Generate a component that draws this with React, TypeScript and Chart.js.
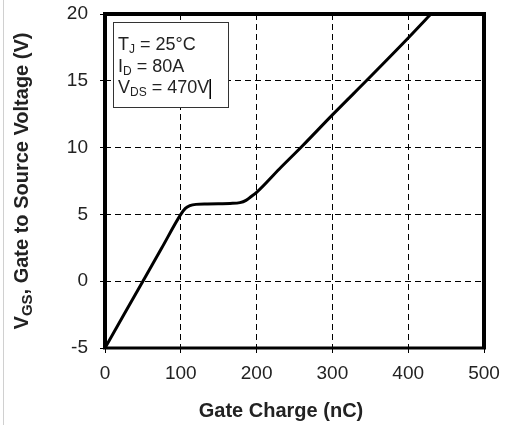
import React, { useEffect, useRef } from "react";
import { Chart, registerables } from "chart.js";

Chart.register(...registerables);

// Data
const gateCharge: number[] = [0, 25, 50, 75, 100, 106, 112, 120, 135, 150, 165, 178, 186, 192, 200, 230, 260, 300, 350, 400, 430];
const vgsValues: number[] = [-5, -2.5, 0, 2.5, 5, 5.45, 5.65, 5.75, 5.78, 5.8, 5.82, 5.88, 6.05, 6.3, 6.65, 8.4, 10.1, 12.45, 15.3, 18.2, 20];

const xMin = 0, xMax = 500, xStep = 100;
const yMin = -5, yMax = 20, yStep = 5;

const xTitle = "Gate Charge (nC)";
const yTitleParts = [
  { t: "V", sub: false },
  { t: "GS", sub: true },
  { t: ", Gate to Source Voltage (V)", sub: false },
];
const noteLines = [
  [{ t: "T", sub: false }, { t: "J", sub: true }, { t: " = 25°C", sub: false }],
  [{ t: "I", sub: false }, { t: "D", sub: true }, { t: " = 80A", sub: false }],
  [{ t: "V", sub: false }, { t: "DS", sub: true }, { t: " = 470V", sub: false }],
];

const FONT = "'Liberation Sans', Arial, sans-serif";
const TXT = "#222";

function drawRich(ctx: CanvasRenderingContext2D, parts: { t: string; sub: boolean }[], x: number, y: number, size: number, subSize: number, bold: boolean, subDy: number, center: boolean) {
  const w = bold ? "bold " : "";
  let total = 0;
  for (const p of parts) {
    ctx.font = `${w}${p.sub ? subSize : size}px ${FONT}`;
    total += ctx.measureText(p.t).width;
  }
  let cx = center ? x - total / 2 : x;
  for (const p of parts) {
    ctx.font = `${w}${p.sub ? subSize : size}px ${FONT}`;
    ctx.fillText(p.t, cx, p.sub ? y + subDy : y);
    cx += ctx.measureText(p.t).width;
  }
  return cx;
}

const decor = {
  id: "decor",
  afterDraw(chart: any) {
    const ctx: CanvasRenderingContext2D = chart.ctx;
    const a = chart.chartArea;
    ctx.save();
    // page edge line
    ctx.fillStyle = "#d0d0d0";
    ctx.fillRect(3, 0, 1, chart.height);
    // frame
    ctx.strokeStyle = "#000";
    ctx.lineWidth = 4;
    ctx.beginPath();
    ctx.moveTo(a.left, a.bottom);
    ctx.lineTo(a.left, a.top);
    ctx.lineTo(a.right, a.top);
    ctx.lineTo(a.right, a.bottom);
    ctx.stroke();
    ctx.lineWidth = 3;
    ctx.beginPath();
    ctx.moveTo(a.left - 2, a.bottom);
    ctx.lineTo(a.right + 2, a.bottom);
    ctx.stroke();

    ctx.fillStyle = TXT;
    ctx.textAlign = "left";
    ctx.textBaseline = "alphabetic";
    // x title
    drawRich(ctx, [{ t: xTitle, sub: false }], 281, 417, 20, 20, true, 0, true);
    // y title
    ctx.save();
    ctx.translate(28, 181);
    ctx.rotate(-Math.PI / 2);
    drawRich(ctx, yTitleParts, 0, 0, 20, 15, true, 4, true);
    ctx.restore();

    // annotation box
    ctx.fillStyle = "#fff";
    ctx.fillRect(113.5, 22.5, 115, 85);
    ctx.strokeStyle = "#333";
    ctx.lineWidth = 1;
    ctx.strokeRect(113.5, 22.5, 115, 85);
    ctx.fillStyle = TXT;
    const base = [50, 72, 93];
    let endX = 0;
    noteLines.forEach((ln, i) => {
      endX = drawRich(ctx, ln, 118, base[i], 18, 12, false, 3, false);
    });
    ctx.strokeStyle = "#000";
    ctx.lineWidth = 1.5;
    ctx.beginPath();
    ctx.moveTo(endX + 1, 79);
    ctx.lineTo(endX + 1, 99);
    ctx.stroke();
    ctx.restore();
  },
};

export default function App() {
  const ref = useRef<HTMLCanvasElement | null>(null);
  useEffect(() => {
    document.body.style.margin = "0";
    const ctx = ref.current!.getContext("2d")!;
    const chart = new Chart(ctx, {
      type: "line",
      data: {
        datasets: [
          {
            data: gateCharge.map((x, i) => ({ x, y: vgsValues[i] })),
            borderColor: "#000",
            borderWidth: 3,
            pointRadius: 0,
            fill: false,
            cubicInterpolationMode: "monotone",
          },
        ],
      },
      options: {
        animation: false,
        responsive: false,
        layout: { padding: { top: 14, right: 25, left: 0, bottom: 0 } },
        plugins: { legend: { display: false }, tooltip: { enabled: false } },
        scales: {
          x: {
            type: "linear",
            min: xMin,
            max: xMax,
            ticks: { stepSize: xStep, color: TXT, font: { family: FONT, size: 19 }, padding: 9, maxRotation: 0 },
            grid: { color: "#000", lineWidth: 1, tickLength: 5, tickColor: "#000", tickWidth: 1 },
            border: { display: false, dash: [6, 4] },
            afterFit: (s: any) => { s.height = 77; s.paddingLeft = 0; s.paddingRight = 0; },
          },
          y: {
            type: "linear",
            min: yMin,
            max: yMax,
            ticks: { stepSize: yStep, color: TXT, font: { family: FONT, size: 19 }, padding: 12 },
            grid: { color: "#000", lineWidth: 1, tickLength: 5, tickColor: "#000", tickWidth: 1 },
            border: { display: false, dash: [6, 4] },
            afterFit: (s: any) => { s.width = 105; s.paddingTop = 0; s.paddingBottom = 0; },
          },
        },
      },
      plugins: [decor],
    } as any);
    return () => chart.destroy();
  }, []);
  return (
    <div style={{ position: "relative", width: 509, height: 425 }}>
      <canvas ref={ref} width={509} height={425} />
    </div>
  );
}
